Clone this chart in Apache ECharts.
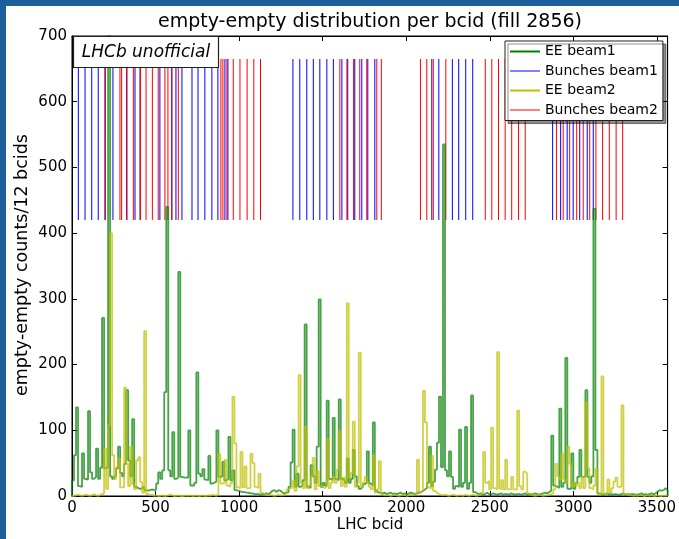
<!DOCTYPE html>
<html><head><meta charset="utf-8">
<script src="https://cdn.jsdelivr.net/npm/echarts@6/dist/echarts.min.js"></script>
<style>html,body{margin:0;padding:0;background:#fff}#c{width:679px;height:539px}</style>
</head><body><div id="c"></div>
<script>
const BIN = 12;
const NBCID = 3564;
const X_TICKS = [0,500,1000,1500,2000,2500,3000,3500];
const Y_TICKS = [0,100,200,300,400,500,600,700];

const EE_BEAM1 = [
24,62,135,15,14,65,26,25,129,36,
26,29,72,26,43,271,42,44,720,30,
26,30,42,75,35,30,49,161,54,30,
117,14,12,11,12,14,9,8,9,10,
9,10,19,36,26,39,158,440,39,30,
97,26,28,341,29,28,28,28,100,16,
16,20,188,34,30,41,25,24,61,19,
20,22,100,29,30,52,24,26,90,24,
39,9,8,7,6,6,5,5,4,4,
3,3,3,2,3,3,4,3,5,8,
9,6,9,8,5,4,5,6,14,51,
101,14,34,14,16,24,261,14,12,47,
30,20,75,299,14,20,16,145,26,24,
119,26,24,147,26,24,20,57,20,26,
70,30,15,11,14,18,20,68,19,16,
112,8,5,5,4,5,3,4,5,3,
4,3,4,5,3,4,3,4,5,4,
3,4,5,6,8,10,12,20,75,15,
22,40,81,151,44,535,39,30,68,29,
11,15,14,101,14,20,105,11,20,153,
6,4,3,4,2,3,5,3,2,4,
3,2,3,4,2,3,3,2,4,3,
2,3,3,2,3,4,2,3,2,3,
4,3,2,3,4,5,4,6,8,92,
16,14,12,133,14,20,210,11,11,65,
11,20,29,70,29,30,161,29,20,30,
437,70,4,3,2,3,4,2,3,2,
3,2,2,3,4,2,3,2,3,3,
2,2,3,4,2,3,2,3,4,3,
4,6,9,8,9,12,9];

const EE_BEAM2 = [
0,1,2,1,0,1,2,1,0,1,
3,1,0,2,3,4,72,11,108,400,
62,26,44,57,13,13,165,49,15,75,
18,10,54,59,21,5,251,3,1,2,
0,1,0,0,1,0,0,1,2,1,
0,0,1,0,0,0,1,0,1,0,
0,1,0,0,1,0,0,1,0,2,
1,0,3,64,19,20,55,16,14,20,
151,80,13,12,67,13,45,12,12,64,
50,14,12,34,5,3,2,1,2,1,
0,1,2,1,1,2,4,10,12,12,
23,8,45,184,20,12,105,12,16,30,
58,10,38,15,15,12,14,87,12,20,
29,20,40,99,15,28,14,293,28,35,
113,14,20,218,14,20,29,20,14,10,
62,5,10,53,3,1,2,1,0,1,
2,1,0,1,1,2,0,1,2,1,
3,5,55,5,8,160,112,14,11,61,
8,5,3,2,1,2,1,0,1,2,
1,0,1,1,0,2,1,0,1,2,
1,0,2,3,4,67,20,23,10,104,
12,10,219,11,24,10,55,10,10,29,
10,10,130,15,10,37,34,4,2,1,
0,1,2,1,0,1,1,2,3,4,
10,49,30,25,65,25,20,75,49,14,
20,16,20,12,29,12,143,42,12,10,
16,42,3,2,182,3,5,25,5,12,
22,28,14,14,138,3,2,1,1,0,
1,0,1,1,0,0,1,0,1,0,
0,1,0,0,1,0,1];

const BUNCHES_BEAM1 = [38,78,118,157,197,245,327,377,407,526,598,622,658,718,754,795,837,873,915,933,
1322,1363,1405,1444,1483,1525,1564,1615,1650,1692,1734,1770,1812,
2153,2195,2276,2314,2356,2398,
2876,2924,2963,2999,3038,3083,3119];

const BUNCHES_BEAM2 = [200,287,297,329,367,410,443,481,516,556,574,596,636,891,903,927,965,1005,1048,1088,1128,
1603,1645,1685,1722,1764,1824,1851,
2085,2123,2162,2237,2473,2512,2552,2592,2631,2672,2712,
2899,2939,2978,3020,3059,3098,3135,3175,3215,3256,3295];

const LINE_LO = 420, LINE_HI = 665;
const FONT = 'DejaVu Sans';

function stepData(arr){
  const d = [[0,0]];
  arr.forEach((v,i)=>d.push([i*BIN, v]));
  d.push([NBCID, arr[arr.length-1]]);
  d.push([NBCID, 0]);
  return d;
}
function bunchSeries(name, arr, color){
  return {
    type:'custom', name:name, silent:true,
    data: arr.map(b=>[b, LINE_LO]),
    encode:{x:0, y:1},
    itemStyle:{color:color},
    clip:true,
    renderItem:(params, api)=>{
      const p0 = api.coord([api.value(0), LINE_LO]);
      const p1 = api.coord([api.value(0), LINE_HI]);
      return {type:'line', shape:{x1:p0[0], y1:p0[1], x2:p1[0], y2:p1[1]},
              style:{stroke:color, lineWidth:1}};
    }
  };
}
function histSeries(name, arr, color){
  return {
    type:'line', name:name, step:'end', showSymbol:false, silent:true,
    data: stepData(arr),
    lineStyle:{color:color, width:1.8, opacity:0.72},
    itemStyle:{color:color},
    clip:true
  };
}

const axisCommon = {
  axisLine:{show:true, onZero:false, lineStyle:{color:'#000', width:1}},
  splitLine:{show:false}
};
const plain = v => String(v);

const chart = echarts.init(document.getElementById('c'), null, {renderer:'canvas'});
chart.setOption({
  animation:false,
  backgroundColor:'#fff',
  grid:{left:72, right:11, top:36, bottom:43, show:true, borderColor:'#000', borderWidth:1, backgroundColor:'transparent'},
  xAxis:[
    Object.assign({type:'value', min:0, max:NBCID, interval:500, position:'bottom',
      axisTick:{show:true, inside:true, length:5, customValues:X_TICKS, lineStyle:{color:'#000'}},
      axisLabel:{customValues:X_TICKS, formatter:plain, color:'#000', fontFamily:FONT, fontSize:15, margin:5}}, axisCommon),
    Object.assign({type:'value', min:0, max:NBCID, interval:500, position:'top',
      axisTick:{show:true, inside:true, length:5, customValues:X_TICKS, lineStyle:{color:'#000'}},
      axisLabel:{show:false}}, axisCommon)
  ],
  yAxis:[
    Object.assign({type:'value', min:0, max:700, interval:100, position:'left',
      axisTick:{show:true, inside:true, length:5, customValues:Y_TICKS, lineStyle:{color:'#000'}},
      axisLabel:{customValues:Y_TICKS, formatter:plain, color:'#000', fontFamily:FONT, fontSize:15, margin:5}}, axisCommon),
    Object.assign({type:'value', min:0, max:700, interval:100, position:'right',
      axisTick:{show:true, inside:true, length:5, customValues:Y_TICKS, lineStyle:{color:'#000'}},
      axisLabel:{show:false}}, axisCommon)
  ],
  legend:{
    orient:'vertical', left:505, top:41, selectedMode:false,
    itemWidth:30, itemHeight:2, itemGap:4.5,
    textStyle:{fontFamily:FONT, fontSize:14, color:'#000', lineHeight:15},
    backgroundColor:'#fff', borderColor:'#222', borderWidth:1, padding:[3,5,3,5],
    shadowColor:'rgba(0,0,0,0.45)', shadowOffsetX:3, shadowOffsetY:3, shadowBlur:0,
    data:[
      {name:'EE beam1', icon:'rect', itemStyle:{color:'#008000'}},
      {name:'Bunches beam1', icon:'rect', itemStyle:{color:'#7f7fff'}},
      {name:'EE beam2', icon:'rect', itemStyle:{color:'#bfbf00'}},
      {name:'Bunches beam2', icon:'rect', itemStyle:{color:'#ff7f7f'}}
    ]
  },
  graphic:[
    {type:'rect', left:0, top:0, shape:{width:679, height:6}, style:{fill:'#1b5e9c'}, z:100},
    {type:'rect', left:0, top:0, shape:{width:6, height:539}, style:{fill:'#1b5e9c'}, z:100},
    {type:'text', x:370, y:22, style:{text:'empty-empty distribution per bcid (fill 2856)', font:'19px "DejaVu Sans"', fill:'#000', textAlign:'center', textVerticalAlign:'middle'}, z:100},
    {type:'text', x:370, y:525, style:{text:'LHC bcid', font:'15px "DejaVu Sans"', fill:'#000', textAlign:'center', textVerticalAlign:'middle'}, z:100},
    {type:'text', x:22, y:265, rotation:Math.PI/2, style:{text:'empty-empty counts/12 bcids', font:'17.5px "DejaVu Sans"', fill:'#000', textAlign:'center', textVerticalAlign:'middle'}, z:100},
    {type:'rect', x:73.5, y:36.5, shape:{width:145, height:31}, style:{fill:'#fff', stroke:'#222', lineWidth:1.2}, z:90},
    {type:'text', x:146, y:52.5, style:{text:'LHCb unofficial', font:'italic 17px "DejaVu Sans"', fill:'#000', textAlign:'center', textVerticalAlign:'middle'}, z:91}
  ],
  series:[
    histSeries('EE beam1', EE_BEAM1, '#008000'),
    bunchSeries('Bunches beam1', BUNCHES_BEAM1, '#0000ff'),
    histSeries('EE beam2', EE_BEAM2, '#bfbf00'),
    bunchSeries('Bunches beam2', BUNCHES_BEAM2, '#ff0000')
  ]
});
</script></body></html>
